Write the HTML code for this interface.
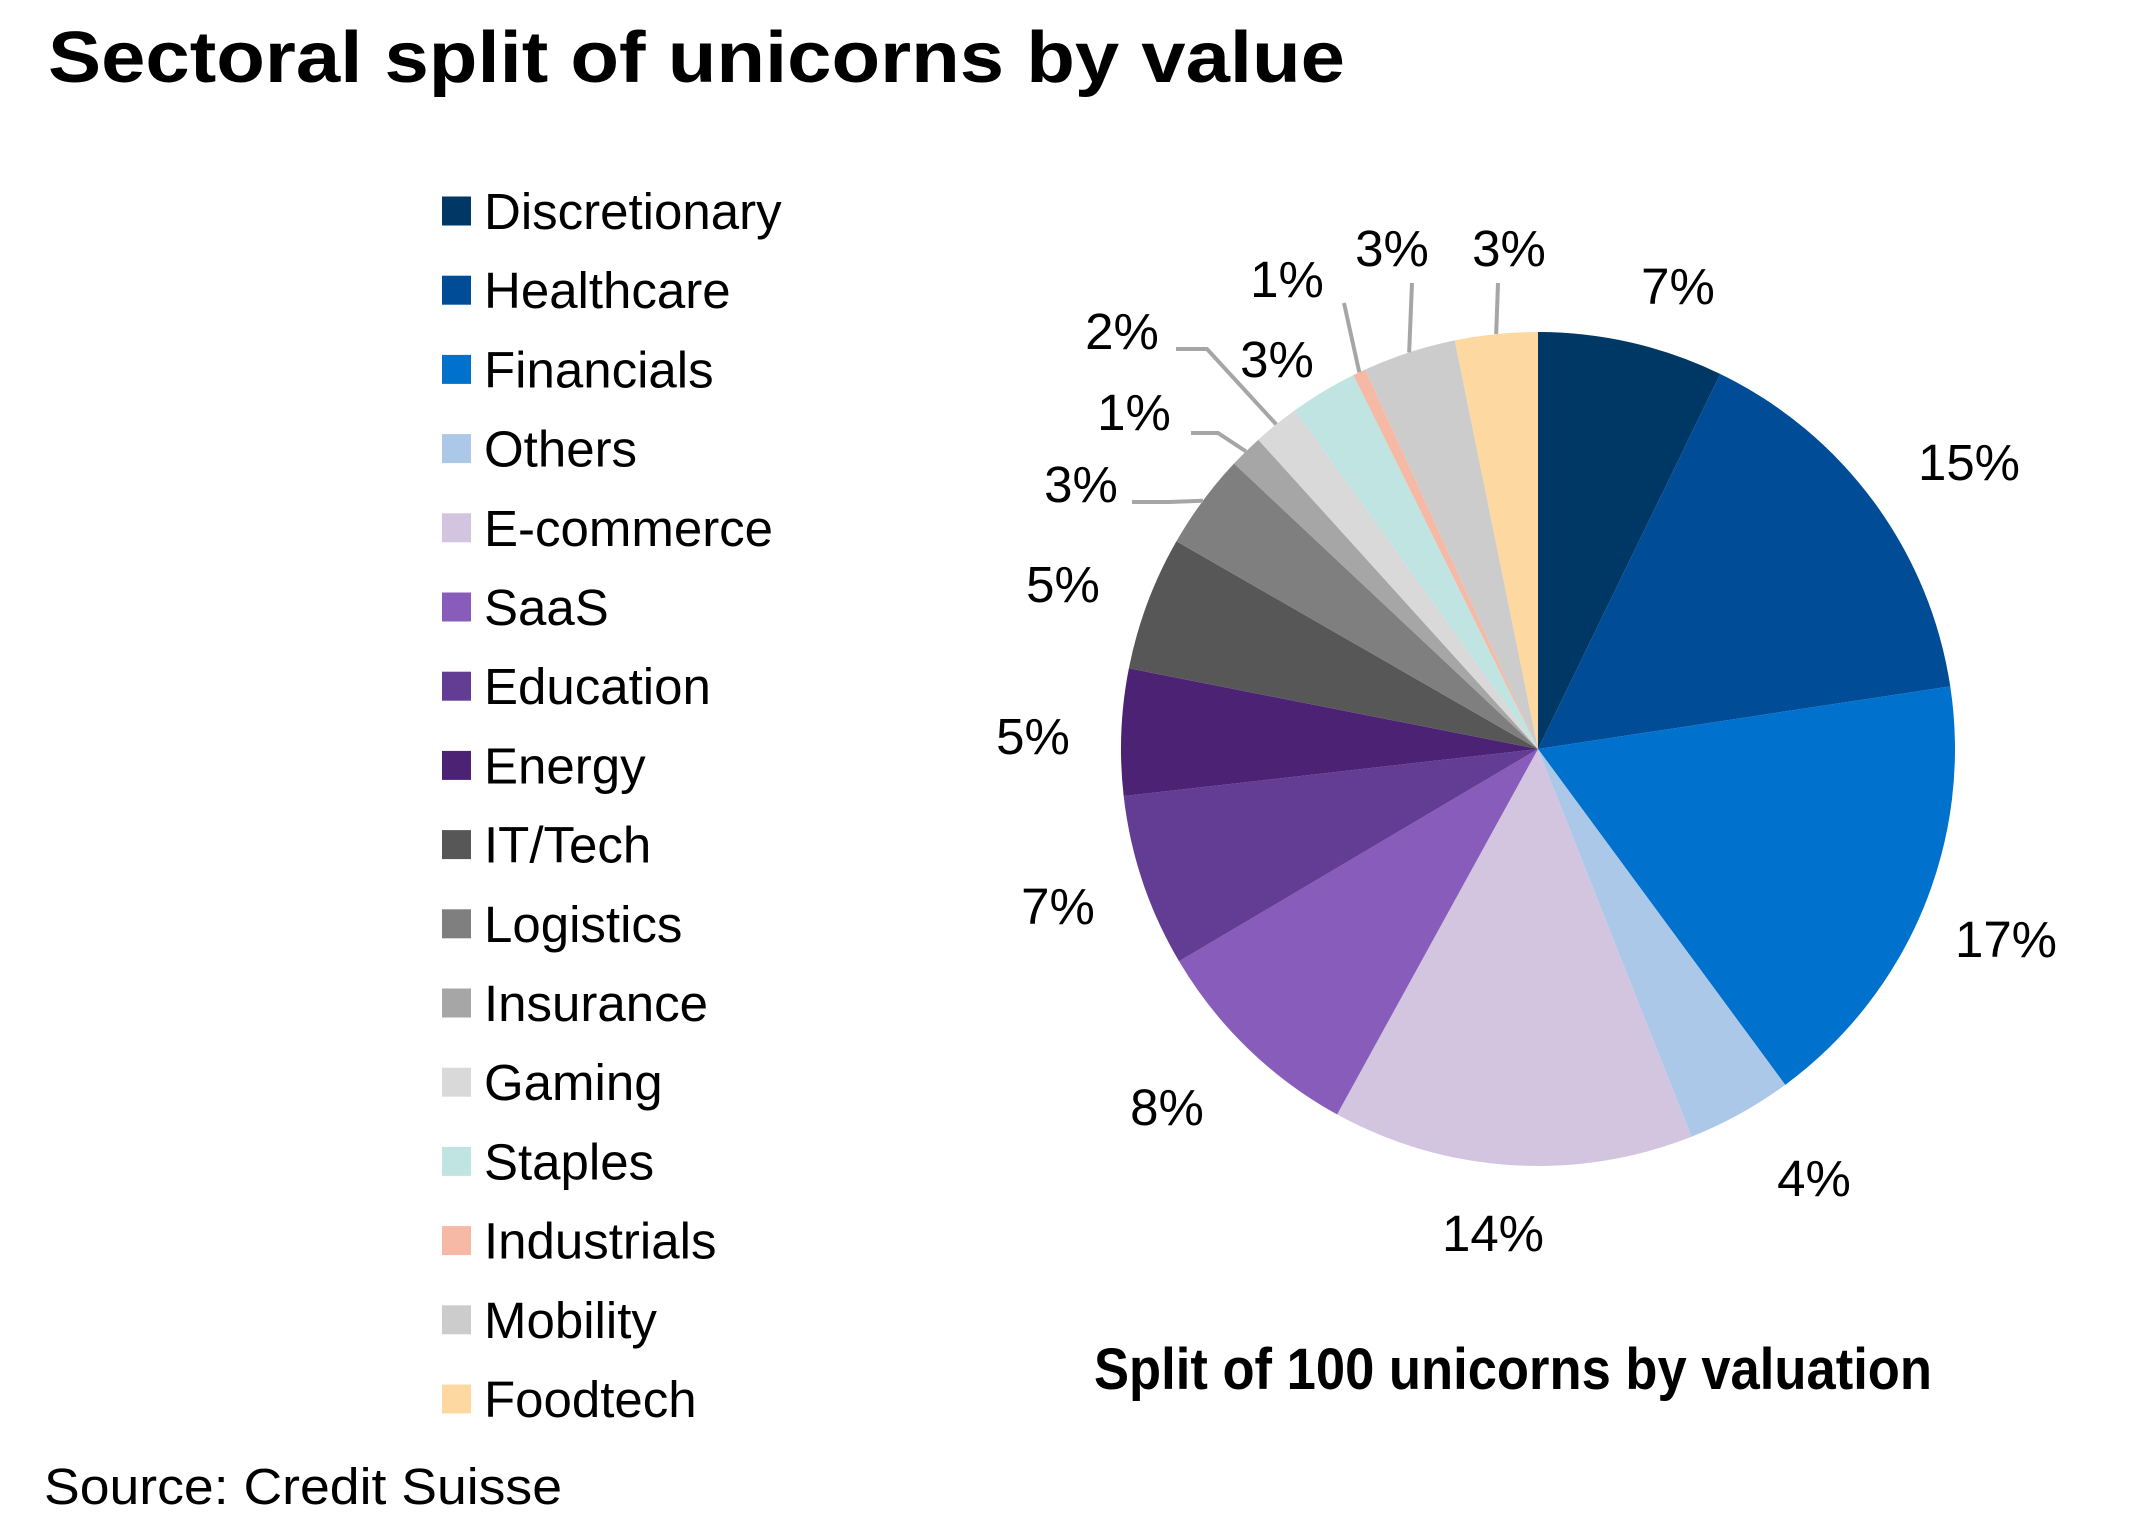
<!DOCTYPE html>
<html><head><meta charset="utf-8"><style>
html,body{margin:0;padding:0;background:#fff;}
svg{display:block;font-family:"Liberation Sans",Arial,sans-serif;}
</style></head><body>
<svg id="chart" width="2140" height="1540" viewBox="0 0 2140 1540">
<text x="48" y="82" font-size="72" font-weight="bold" textLength="1297" lengthAdjust="spacingAndGlyphs">Sectoral split of unicorns by value</text>
<g id="legend"></g>
<g id="pie"></g>
<g id="leaders"></g>
<g id="labels"></g>
<text x="1513" y="1389" font-size="58" font-weight="bold" text-anchor="middle" textLength="838" lengthAdjust="spacingAndGlyphs">Split of 100 unicorns by valuation</text>
<text x="44" y="1504" font-size="51" textLength="518" lengthAdjust="spacingAndGlyphs">Source:  Credit Suisse</text>
</svg>
<script>
const categories = ["Discretionary","Healthcare","Financials","Others","E-commerce","SaaS","Education","Energy","IT/Tech","Logistics","Insurance","Gaming","Staples","Industrials","Mobility","Foodtech"];
const values = [7.2,15.4,17.3,4.1,14.0,8.5,6.7,4.9,5.2,3.7,1.3,1.8,2.6,0.5,3.6,3.2];
const valueLabels = ["7%","15%","17%","4%","14%","8%","7%","5%","5%","3%","1%","2%","3%","1%","3%","3%"];
const colors = ["#003865","#004C97","#0072CE","#ABC8E8","#D3C5E0","#885CBA","#623D93","#4C2275","#575757","#7F7F7F","#A6A6A6","#D9D9D9","#C0E4E2","#F5B9A5","#CCCCCC","#FDD8A0"];
// layout (pixel positions of labels and leader elbows)
const labelPos = [[1678,286],[1969,462],[2006,939],[1814,1178],[1493,1233],[1167,1107],[1058,906],[1033,736],[1063,584],[1081,484],[1134,412],[1122,331],[1277,359],[1287,279],[1392,248],[1509,248]];
const elbows = {9:[[1132,502],[1169,502]],10:[[1191,433],[1218,433]],11:[[1176,349],[1207,349]],13:[[1344,303]],14:[[1412,283]],15:[[1498,283]]};
const NS="http://www.w3.org/2000/svg";
const cx=1538, cy=749, R=417;
const total = values.reduce((a,b)=>a+b,0);
function pt(frac,r){const a=frac*2*Math.PI;return [cx+r*Math.sin(a), cy-r*Math.cos(a)];}
const pie=document.getElementById('pie'), lab=document.getElementById('labels'), lead=document.getElementById('leaders'), leg=document.getElementById('legend');
let cum=0;
values.forEach((v,i)=>{
  const f0=cum/total, f1=(cum+v)/total; cum+=v;
  const p0=pt(f0,R), p1=pt(f1,R);
  const large=(f1-f0)>0.5?1:0;
  const path=document.createElementNS(NS,'path');
  path.setAttribute('d',`M${cx},${cy} L${p0[0]},${p0[1]} A${R},${R} 0 ${large} 1 ${p1[0]},${p1[1]} Z`);
  path.setAttribute('fill',colors[i]);
  
  
  pie.appendChild(path);
  const t=document.createElementNS(NS,'text');
  t.setAttribute('x',labelPos[i][0]); t.setAttribute('y',labelPos[i][1]+18);
  t.setAttribute('font-size','51'); t.setAttribute('text-anchor','middle');
  t.textContent=valueLabels[i];
  
  
  lab.appendChild(t);
  if(elbows[i]){
    const e=pt((f0+f1)/2,R);
    const pts=elbows[i].concat([e]).map(p=>p.join(',')).join(' ');
    const pl=document.createElementNS(NS,'polyline');
    pl.setAttribute('points',pts); pl.setAttribute('fill','none');
    pl.setAttribute('stroke','#A6A6A6'); pl.setAttribute('stroke-width','4');
    
    
    lead.appendChild(pl);
  }
  const y=211+i*79.2;
  const r=document.createElementNS(NS,'rect');
  r.setAttribute('x',442); r.setAttribute('y',y-14.5); r.setAttribute('width',29); r.setAttribute('height',29);
  r.setAttribute('fill',colors[i]);
  
  
  leg.appendChild(r);
  const lt=document.createElementNS(NS,'text');
  lt.setAttribute('x',484); lt.setAttribute('y',y+18); lt.setAttribute('font-size','51');
  lt.textContent=categories[i];
  
  
  leg.appendChild(lt);
});
</script>
</body></html>
